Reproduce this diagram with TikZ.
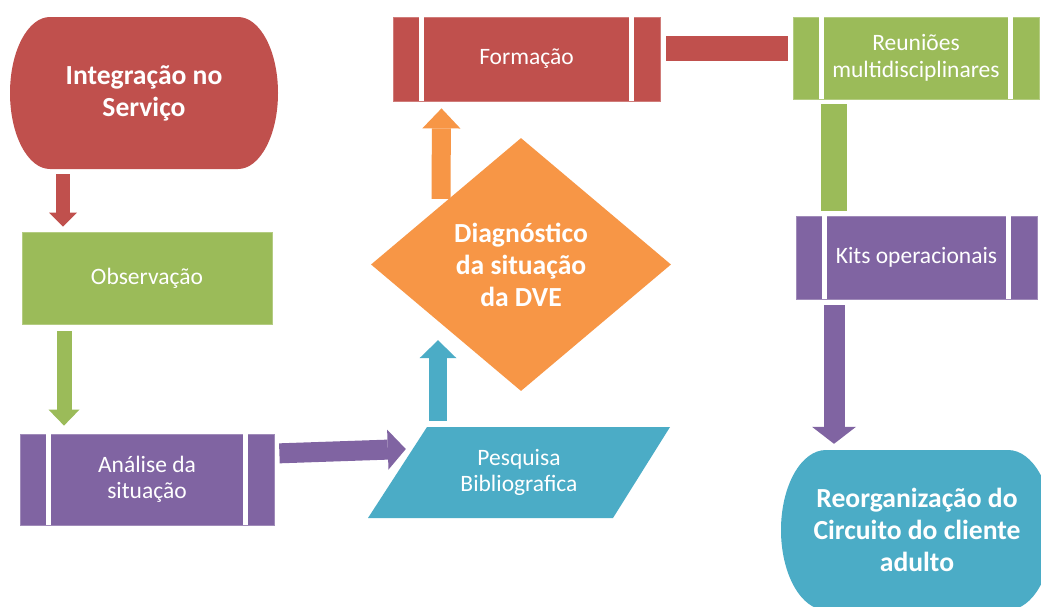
\documentclass[tikz,border=0pt]{standalone}
\usepackage{fontspec}
\setmainfont{Carlito}
\usetikzlibrary{arrows.meta,shapes.geometric,calc}
\definecolor{cred}{HTML}{C0504D}
\definecolor{cgreen}{HTML}{9BBB59}
\definecolor{cpurple}{HTML}{8064A2}
\definecolor{cblue}{HTML}{4BACC6}
\definecolor{corange}{HTML}{F79646}
\begin{document}
\begin{tikzpicture}[x=1pt,y=-1pt,
  lbl/.style={text=white, align=center, font=\fontsize{23.5}{26.5}\selectfont, inner sep=0pt},
  blbl/.style={text=white, align=center, font=\fontsize{27.6}{32}\selectfont\bfseries, inner sep=0pt},
  plainbox/.style={lbl, rectangle, fill=#1, draw=#1!75!white, line width=0.8pt},
  pproc/.style={plainbox=#1, append after command={
      ([xshift=29pt]\tikzlastnode.north west) edge[draw=white, line width=5pt] ([xshift=29pt]\tikzlastnode.south west)
      ([xshift=-29pt]\tikzlastnode.north east) edge[draw=white, line width=5pt] ([xshift=-29pt]\tikzlastnode.south east)}},
  barrow/.style n args={4}{draw=#1, line width=#2, -{Triangle[width=#3, length=#4, line width=0pt]}},
  linkbar/.style n args={2}{draw=#1, line width=#2},
]
\useasboundingbox (0,0) rectangle (1041,606);
\clip (0,0) rectangle (1041,606);
\fill[white] (0,0) rectangle (1041,606);

% terminator: Integracao no Servico
\fill[cred] (50,17) -- (238,17) arc[start angle=-90,end angle=90,x radius=40,y radius=76]
  -- (50,169) arc[start angle=90,end angle=270,x radius=40,y radius=76] -- cycle;
\node[blbl, minimum width=268pt, minimum height=152pt] (int) at (144,93) {Integração no\\Serviço};

\node[plainbox=cgreen, minimum width=250pt, minimum height=92pt] (obs) at (147,278) {Observação};
\node[pproc=cpurple, minimum width=254pt, minimum height=91pt] (ana) at (147,479.5) {Análise da\\situação};
\node[pproc=cred, minimum width=267pt, minimum height=84pt] (form) at (526.5,59) {Formação};
\node[pproc=cgreen, minimum width=246pt, minimum height=82pt] (reu) at (916,58) {Reuniões\\multidisciplinares};
\node[pproc=cpurple, minimum width=241pt, minimum height=83pt] (kits) at (916.5,257.5) {Kits operacionais};

\node[blbl, diamond, fill=corange, minimum width=300pt, minimum height=253pt] (diag) at (521,264.5) {Diagnóstico\\da situação\\da DVE};

% parallelogram: Pesquisa Bibliografica
\fill[cblue] (427,427) -- (670,427) -- (613,518) -- (368,518) -- cycle;
\node[lbl, minimum width=245pt, minimum height=91pt] (pesq) at (519,472.5) {Pesquisa\\Bibliografica};

% terminator: Reorganizacao
\fill[cblue] (826,450) -- (1008,450) arc[start angle=-90,end angle=90,x radius=45,y radius=80]
  -- (826,610) arc[start angle=90,end angle=270,x radius=45,y radius=80] -- cycle;
\node[blbl, minimum width=272pt, minimum height=160pt] (reorg) at (917,530) {Reorganização do\\Circuito do cliente\\adulto};

% connectors
\draw[barrow={cred}{14pt}{28pt}{14pt}, shorten <=5pt] ([xshift=-81pt]int.south) -- ([xshift=-84pt,yshift=5pt]obs.north);
\draw[barrow={cgreen}{15pt}{31pt}{16pt}, shorten <=7pt] ([xshift=-83pt]obs.south) -- ([xshift=-83pt,yshift=8pt]ana.north);
\draw[barrow={cpurple}{20pt}{40pt}{18pt}, shorten <=5pt] ([yshift=26pt]ana.east) -- ([xshift=9.5pt,yshift=23.5pt]pesq.west);
\draw[barrow={cblue}{18pt}{37pt}{18pt}, shorten <=6pt] ([xshift=-81pt]pesq.north) -- ([xshift=-83pt,yshift=51pt]diag.south);
\draw[barrow={corange}{19pt}{38pt}{20pt}] ([xshift=-80pt,yshift=-61pt]diag.north) -- ([xshift=-85pt,yshift=-7pt]form.south);
\draw[linkbar={cred}{25pt}, shorten <=6pt, shorten >=5pt] ([yshift=10.5pt]form.east) -- ([yshift=9.5pt]reu.west);
\draw[linkbar={cgreen}{26pt}, shorten <=5pt, shorten >=5pt] ([xshift=-82pt]reu.south) -- ([xshift=-82.5pt]kits.north);
\draw[barrow={cpurple}{21pt}{44pt}{17pt}, shorten <=6pt] ([xshift=-82.5pt]kits.south) -- ([xshift=-83pt,yshift=6pt]reorg.north);
\end{tikzpicture}
\end{document}
